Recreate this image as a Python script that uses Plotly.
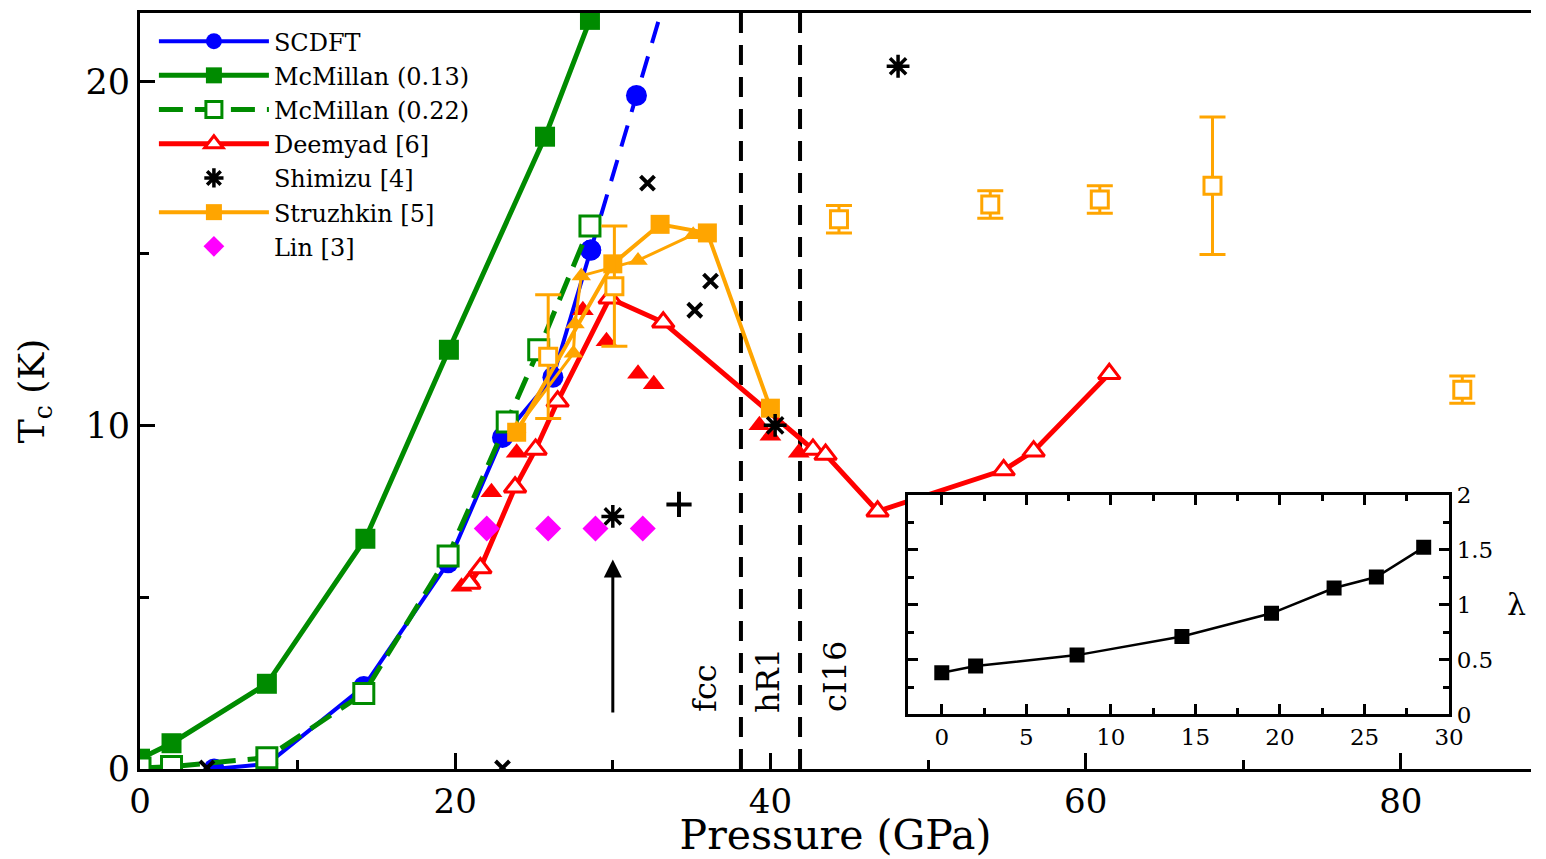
import plotly.graph_objects as go

# ---- Tc(P) data (GPa, K) ----
scdft_p = [4.7, 8.1, 14.2, 19.55, 23.0, 26.2, 28.6]
scdft_tc = [0.0, 0.15, 2.4, 6.0, 9.65, 11.4, 15.1]
# SCDFT continuation beyond the fcc range (dashed)
scdft_ext_p = [28.6, 31.5, 33.5]
scdft_ext_tc = [15.1, 19.6, 22.7]

mcm013_p = [0.0, 2.0, 8.05, 14.3, 19.6, 25.7, 28.55]
mcm013_tc = [0.3, 0.75, 2.48, 6.7, 12.2, 18.4, 21.8]

mcm022_p = [0.0, 2.0, 8.05, 14.2, 19.55, 23.3, 25.3, 28.55]
mcm022_tc = [0.03, 0.07, 0.33, 2.2, 6.2, 10.1, 12.2, 15.8]

deemyad_p = [20.9, 21.6, 23.8, 25.1, 26.5, 29.8, 33.2, 42.7, 43.5, 46.8, 54.8, 56.7, 61.5]
deemyad_tc = [5.4, 5.85, 8.2, 9.3, 10.7, 13.7, 13.0, 9.3, 9.15, 7.5, 8.7, 9.25, 11.5]
deemyad2_p = [20.4, 20.9, 22.3, 23.9, 28.1, 29.6, 31.6, 32.6, 39.3, 40.0, 41.8]
deemyad2_tc = [5.3, 5.5, 8.05, 9.2, 13.35, 12.45, 11.5, 11.2, 10.0, 9.7, 9.2]

shimizu_p = [30.0, 40.3, 48.1]
shimizu_tc = [7.35, 10.0, 20.45]
shimizu_x_p = [4.25, 23.0, 32.2, 35.2, 36.2]
shimizu_x_tc = [0.03, 0.03, 17.05, 13.35, 14.2]
shimizu_plus_p = [34.2]
shimizu_plus_tc = [7.7]

struzhkin_p = [23.9, 30.0, 33.0, 36.0, 40.0]
struzhkin_tc = [9.8, 14.7, 15.85, 15.6, 10.5]
struzhkin_tri_p = [23.9, 27.5, 27.6, 28.0, 31.6, 35.1]
struzhkin_tri_tc = [9.9, 12.1, 12.95, 14.35, 14.8, 15.55]
struzhkin_err_p = [25.9, 30.1, 44.35, 53.95, 60.9, 68.05, 83.9]
struzhkin_err_tc = [12.0, 14.05, 16.0, 16.43, 16.57, 16.97, 11.04]
struzhkin_err_dtc = [1.8, 1.75, 0.4, 0.4, 0.4, 2.0, 0.4]

lin_p = [22.0, 25.9, 28.9, 31.9]
lin_tc = [7.0, 7.0, 7.0, 7.0]

# phase boundaries and labels
phase_bounds = [38.13, 41.88]
phase_names = ["fcc", "hR1", "cI16"]
phase_label_p = [35.85, 39.8, 44.1]
phase_label_tc = [2.36, 2.57, 2.68]

# arrow marking the pressure of interest
arrow_p = 30.0
arrow_tc = [1.6, 6.1]

# ---- inset: coupling constant lambda(P) ----
lam_p = [0.0, 2.0, 8.0, 14.2, 19.5, 23.2, 25.7, 28.5]
lam = [0.38, 0.44, 0.54, 0.71, 0.92, 1.15, 1.25, 1.52]

BLUE = "#0000ff"
GREEN = "#008b00"
RED = "#ff0000"
ORANGE = "#ffa500"
MAGENTA = "#ff00ff"
SERIF = "DejaVu Serif"

fig = go.Figure()

fig.add_trace(go.Scatter(
    x=mcm013_p, y=mcm013_tc, mode="lines+markers", name="McMillan (0.13)",
    line=dict(color=GREEN, width=5),
    marker=dict(symbol="square", size=20, color=GREEN), legendrank=2))

fig.add_trace(go.Scatter(
    x=scdft_p, y=scdft_tc, mode="lines+markers", name="SCDFT",
    line=dict(color=BLUE, width=4),
    marker=dict(symbol="circle", size=21, color=BLUE), legendrank=1))
fig.add_trace(go.Scatter(
    x=scdft_ext_p, y=scdft_ext_tc, mode="lines+markers", showlegend=False,
    line=dict(color=BLUE, width=4, dash="22px,14px"),
    marker=dict(symbol="circle", size=21, color=BLUE)))

fig.add_trace(go.Scatter(
    x=mcm022_p, y=mcm022_tc, mode="lines+markers", name="McMillan (0.22)",
    line=dict(color=GREEN, width=5, dash="24px,12px"),
    marker=dict(symbol="square", size=20, color="white", line=dict(color=GREEN, width=3)),
    legendrank=3))

fig.add_trace(go.Scatter(
    x=deemyad2_p, y=deemyad2_tc, mode="markers", showlegend=False,
    marker=dict(symbol="triangle-up", size=19, color=RED)))
fig.add_trace(go.Scatter(
    x=deemyad_p, y=deemyad_tc, mode="lines+markers", name="Deemyad [6]",
    line=dict(color=RED, width=5),
    marker=dict(symbol="triangle-up", size=19, color="white", line=dict(color=RED, width=3)),
    legendrank=4))

fig.add_trace(go.Scatter(
    x=struzhkin_tri_p, y=struzhkin_tri_tc, mode="lines+markers", showlegend=False,
    line=dict(color=ORANGE, width=3),
    marker=dict(symbol="triangle-up", size=17, color=ORANGE)))
fig.add_trace(go.Scatter(
    x=struzhkin_p, y=struzhkin_tc, mode="lines+markers", name="Struzhkin [5]",
    line=dict(color=ORANGE, width=4),
    marker=dict(symbol="square", size=19, color=ORANGE), legendrank=6))
fig.add_trace(go.Scatter(
    x=struzhkin_err_p, y=struzhkin_err_tc, mode="markers", showlegend=False,
    error_y=dict(type="data", array=struzhkin_err_dtc, color=ORANGE, thickness=3, width=13),
    marker=dict(symbol="square", size=17, color="white", line=dict(color=ORANGE, width=3))))

fig.add_trace(go.Scatter(
    x=lin_p, y=lin_tc, mode="markers", name="Lin [3]",
    marker=dict(symbol="diamond", size=20, color=MAGENTA), legendrank=7))

fig.add_trace(go.Scatter(
    x=shimizu_p, y=shimizu_tc, mode="markers", name="Shimizu [4]",
    marker=dict(symbol="asterisk-open", size=19, color="black",
                line=dict(color="black", width=3.5)),
    legendrank=5))
fig.add_trace(go.Scatter(
    x=shimizu_x_p, y=shimizu_x_tc, mode="markers", showlegend=False,
    marker=dict(symbol="x-thin-open", size=14, color="black",
                line=dict(color="black", width=4))))
fig.add_trace(go.Scatter(
    x=shimizu_plus_p, y=shimizu_plus_tc, mode="markers", showlegend=False,
    marker=dict(symbol="cross-thin-open", size=18, color="black",
                line=dict(color="black", width=4))))

# inset
fig.add_trace(go.Scatter(
    x=lam_p, y=lam, mode="lines+markers", showlegend=False,
    xaxis="x2", yaxis="y2",
    line=dict(color="black", width=2.5),
    marker=dict(symbol="square", size=15, color="black")))

for pb in phase_bounds:
    fig.add_vline(x=pb, line=dict(color="black", width=4, dash="20px,12px"), layer="below")

for name, px, py in zip(phase_names, phase_label_p, phase_label_tc):
    fig.add_annotation(x=px, y=py, xref="x", yref="y", text=name, textangle=-90,
                       showarrow=False, font=dict(family=SERIF, size=32, color="black"))

fig.add_annotation(x=arrow_p, y=arrow_tc[1], ax=arrow_p, ay=arrow_tc[0],
                   xref="x", yref="y", axref="x", ayref="y", text="",
                   showarrow=True, arrowhead=2, arrowsize=1.2, arrowwidth=3,
                   arrowcolor="black")

fig.add_annotation(x=1.146, y=0.5, xref="x2 domain", yref="y2 domain", text="λ",
                   showarrow=False, font=dict(family=SERIF, size=30, color="black"))

axis_common = dict(showline=True, linecolor="black", showgrid=False, zeroline=False,
                   ticks="inside", tickcolor="black")

fig.update_layout(
    margin=dict(l=140, r=0, t=10, b=86),
    paper_bgcolor="white", plot_bgcolor="white",
    font=dict(family=SERIF, color="black"),
    legend=dict(x=0.010, y=0.992, xanchor="left", yanchor="top",
                bgcolor="rgba(0,0,0,0)", font=dict(family=SERIF, size=24),
                itemwidth=110, tracegroupgap=0),
    xaxis=dict(**axis_common, range=[0, 88.26], tick0=0, dtick=20, ticklen=16, tickwidth=3,
               linewidth=3, mirror=True,
               minor=dict(dtick=10, ticks="inside", ticklen=9, tickwidth=3, tickcolor="black"),
               tickfont=dict(size=34),
               title=dict(text="Pressure (GPa)", font=dict(size=41), standoff=10)),
    yaxis=dict(**axis_common, range=[0, 22], tick0=0, dtick=10, ticklen=15, tickwidth=3,
               linewidth=3,
               minor=dict(dtick=5, ticks="inside", ticklen=9, tickwidth=3, tickcolor="black"),
               tickfont=dict(size=35),
               title=dict(text="T<sub>c</sub> (K)", font=dict(size=36), standoff=30)),
    xaxis2=dict(**axis_common, domain=[0.5521, 0.9411], anchor="y2", range=[-2, 30],
                tick0=0, dtick=5, ticklen=10, tickwidth=3, linewidth=3, mirror="allticks",
                minor=dict(dtick=2.5, ticks="inside", ticklen=6, tickwidth=3, tickcolor="black"),
                tickfont=dict(size=23)),
    yaxis2=dict(**axis_common, domain=[0.0721, 0.363], anchor="x2", side="right",
                range=[0, 2], tick0=0, dtick=0.5, ticklen=10, tickwidth=3, linewidth=3,
                mirror="allticks",
                minor=dict(dtick=0.25, ticks="inside", ticklen=6, tickwidth=3, tickcolor="black"),
                tickfont=dict(size=23)),
)

fig.write_html("out.html")
